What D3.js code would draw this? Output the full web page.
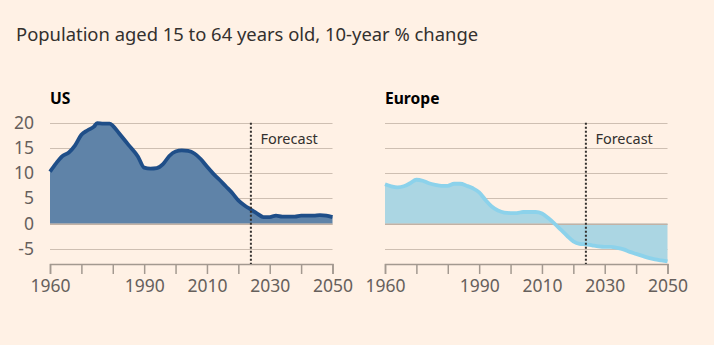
<!DOCTYPE html>
<html>
<head>
<meta charset="utf-8">
<script src="https://cdn.jsdelivr.net/npm/d3@7"></script>
<style>
  body { margin: 0; background: #fff1e5; }
  svg { display: block; font-family: "Noto Sans", sans-serif; }
</style>
</head>
<body>
<div id="chart"></div>
<script>
const years = [1960, 1962, 1964, 1966, 1968, 1970, 1972, 1974, 1975, 1977, 1979, 1980, 1982, 1985, 1988, 1990,
  1992, 1994, 1996, 1998, 2000, 2002, 2004, 2006, 2008, 2010, 2012, 2014, 2016, 2018, 2020, 2022, 2024,
  2026, 2028, 2030, 2032, 2034, 2036, 2038, 2040, 2042, 2044, 2046, 2048, 2050];
const usValues = [10.3, 12, 13.4, 14.1, 15.5, 17.6, 18.5, 19.2, 19.9, 19.8, 19.8, 19.4, 17.9, 15.6, 13.3, 11.1,
  10.9, 11, 11.8, 13.4, 14.3, 14.5, 14.4, 13.9, 12.8, 11.3, 9.9, 8.7, 7.4, 6.1, 4.6, 3.6, 2.8,
  2, 1.3, 1.3, 1.6, 1.4, 1.4, 1.4, 1.6, 1.6, 1.6, 1.7, 1.6, 1.3];

const euYears = [1960, 1962, 1964, 1966, 1968, 1970, 1972, 1974, 1976, 1978, 1980, 1982, 1984, 1986, 1988,
  1990, 1992, 1994, 1996, 1998, 2000, 2002, 2004, 2006, 2008, 2010, 2012, 2014, 2016, 2018, 2020, 2022,
  2024, 2026, 2028, 2030, 2032, 2034, 2036, 2038, 2040, 2042, 2044, 2046, 2048, 2050];
const euValues = [7.8, 7.4, 7.2, 7.4, 8, 8.7, 8.5, 8, 7.7, 7.5, 7.5, 7.9, 7.9, 7.5, 7,
  6.2, 4.7, 3.4, 2.6, 2.2, 2.1, 2.1, 2.3, 2.3, 2.3, 2, 1.1, 0, -1.2, -2.4, -3.5, -4,
  -4.1, -4.3, -4.5, -4.6, -4.6, -4.8, -5.1, -5.6, -6, -6.4, -6.8, -7.1, -7.3, -7.5];

const yTicks = [-5, 0, 5, 10, 15, 20];
const xTickLabels = [1960, 1990, 2010, 2030, 2050];
const forecastYear = 2024;

const panels = [
  { name: "US", left: 50, years: years, values: usValues, fill: "#5f83a8", stroke: "#1f4e88", yLabels: true },
  { name: "Europe", left: 385, years: euYears, values: euValues, fill: "#abd6e3", stroke: "#8cd2eb", yLabels: false }
];

const W = 714, H = 345;
const svg = d3.select("#chart").append("svg").attr("width", W).attr("height", H);

svg.append("text")
  .attr("x", 16).attr("y", 41)
  .attr("font-size", 18.4).attr("fill", "#33302e")
  .text("Population aged 15 to 64 years old, 10-year % change");

const y = d3.scaleLinear().domain([-8, 20]).range([264, 122.7]);

panels.forEach(p => {
  const x = d3.scaleLinear().domain([1960, 2050]).range([p.left, p.left + 282.5]);
  const g = svg.append("g");
  const data = p.years.map((yr, i) => ({ year: yr, value: p.values[i] }));

  g.append("text")
    .attr("x", p.left).attr("y", 104)
    .attr("font-size", 15.6).attr("font-weight", "bold").attr("fill", "#000")
    .text(p.name);

  // gridlines
  g.selectAll(".grid").data(yTicks).enter().append("line")
    .attr("x1", x(1960)).attr("x2", x(2050))
    .attr("y1", d => Math.round(y(d)) + 0.5).attr("y2", d => Math.round(y(d)) + 0.5)
    .attr("stroke", "#cebfb2").attr("stroke-width", 1.2);

  if (p.yLabels) {
    g.selectAll(".ylab").data(yTicks).enter().append("text")
      .attr("x", 34).attr("y", d => y(d) + 6)
      .attr("text-anchor", "end").attr("font-size", 17.5).attr("fill", "#66605c")
      .text(d => d);
  }

  const area = d3.area().curve(d3.curveMonotoneX)
    .x(d => x(d.year)).y0(y(0)).y1(d => y(d.value));
  const line = d3.line().curve(d3.curveMonotoneX)
    .x(d => x(d.year)).y(d => y(d.value));

  g.append("path").datum(data).attr("d", area).attr("fill", p.fill);

  // zero line over the fill
  g.append("line")
    .attr("x1", x(1960)).attr("x2", x(2050))
    .attr("y1", y(0) + 0.5).attr("y2", y(0) + 0.5)
    .attr("stroke", "#c2b2a5").attr("stroke-width", 1.5);

  g.append("path").datum(data).attr("d", line)
    .attr("fill", "none").attr("stroke", p.stroke).attr("stroke-width", 3.8)
    .attr("stroke-linejoin", "round");

  // x axis
  const axis = g.append("g").attr("transform", `translate(0,${y(-8)})`)
    .call(d3.axisBottom(x).tickValues(d3.range(1960, 2051, 10)).tickSize(10)
      .tickFormat(d => xTickLabels.includes(d) ? d : ""));
  axis.select(".domain").attr("stroke", "#a39990").attr("stroke-width", 1.5);
  axis.selectAll(".tick line").attr("stroke", "#a39990").attr("stroke-width", 1.5);
  axis.selectAll(".tick text").attr("font-size", 17.5).attr("fill", "#66605c")
    .attr("font-family", "Noto Sans, sans-serif").attr("dy", "0.85em");

  // forecast marker
  g.append("line")
    .attr("x1", x(forecastYear)).attr("x2", x(forecastYear))
    .attr("y1", y(20)).attr("y2", y(-8))
    .attr("stroke", "#33302e").attr("stroke-width", 2).attr("stroke-dasharray", "2,2");
  g.append("text")
    .attr("x", x(forecastYear) + 9.5).attr("y", 144)
    .attr("font-size", 14.5).attr("fill", "#33302e")
    .text("Forecast");
});
</script>
</body>
</html>
